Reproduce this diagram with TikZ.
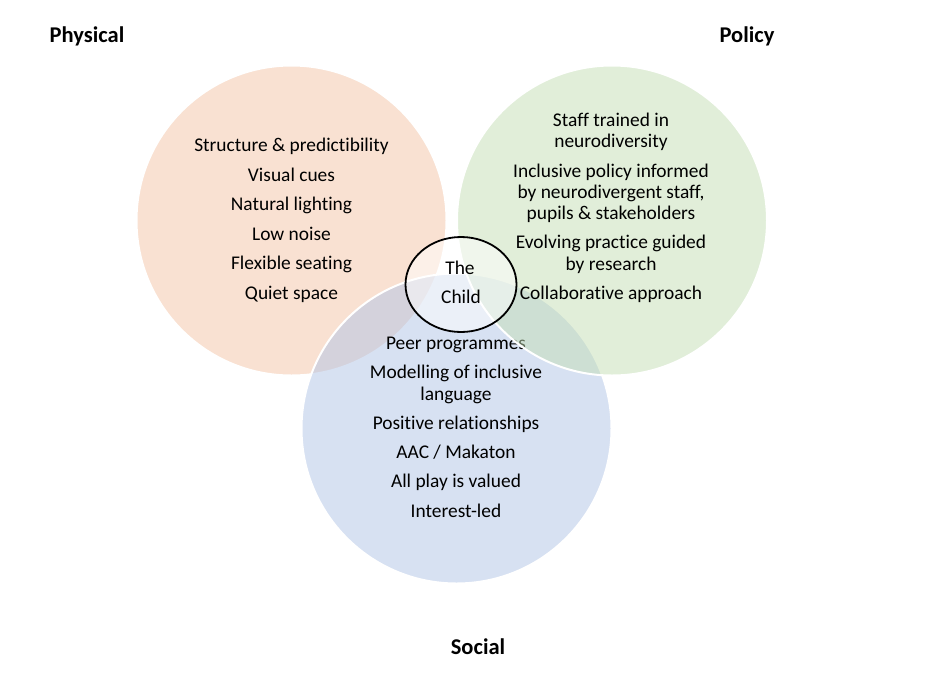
\documentclass[tikz,border=0pt]{standalone}
\usepackage{fontspec}
\setmainfont{Carlito}[Ligatures=NoCommon]
\usetikzlibrary{shapes.geometric}
\definecolor{orangebase}{RGB}{245,197,167}
\definecolor{bluebase}{RGB}{177,197,231}
\definecolor{greenbase}{RGB}{197,223,181}
\newcommand\myslash{/}
\tikzset{
  venn/.style={draw=white, line width=2pt, fill opacity=0.5, draw opacity=1},
  item/.style={anchor=base, inner sep=0pt, font=\fontsize{19.4}{21}\selectfont, text=black},
  head/.style={anchor=base, inner sep=0pt, font=\fontsize{22.5}{24}\selectfont\bfseries, text=black},
}
\begin{document}
\begin{tikzpicture}[x=1pt,y=-1pt]
\useasboundingbox[fill=white] (0,0) rectangle (940,681);
% Physical circle
\path[venn, fill=orangebase] (291.5,220.5) circle[radius=155];
\foreach \t/\y [count=\i] in {Structure \& predictibility/145, Visual cues/175, Natural lighting/204, Low noise/234, Flexible seating/263, Quiet space/293}
  \node[item] (ph\i) at (291.5,\y+6.7) {\t};
% Social circle
\path[venn, fill=bluebase] (456.5,428.5) circle[radius=155];
\foreach \t/\y [count=\i] in {Peer programmes/343, Modelling of inclusive/372, language/394, Positive relationships/423, AAC \myslash{} Makaton/452, All play is valued/481, Interest-led/511}
  \node[item] (so\i) at (456,\y+6.7) {\t};
% Policy circle
\path[venn, fill=greenbase] (612,220.5) circle[radius=155];
\foreach \t/\y [count=\i] in {Staff trained in/120, neurodiversity/141, Inclusive policy informed/171, {by neurodivergent staff,}/192, pupils \& stakeholders/213, Evolving practice guided/242, by research/264, Collaborative approach/293}
  \node[item] (po\i) at (611,\y+6.7) {\t};
% The Child
\node[draw=black, line width=1.8pt, fill=white, fill opacity=0.5, text opacity=1, ellipse, minimum width=111pt, minimum height=95pt, inner sep=0pt] (child) at (461,284.5) {};
\node[item] (childA) at (460,268+6.7) {The};
\node[item] (childB) at (461,297+6.7) {Child};
% Headings
\node[head] (physical) at (87,42) {Physical};
\node[head] (policy) at (747,42) {Policy};
\node[head] (social) at (478,654) {Social};
\end{tikzpicture}
\end{document}
